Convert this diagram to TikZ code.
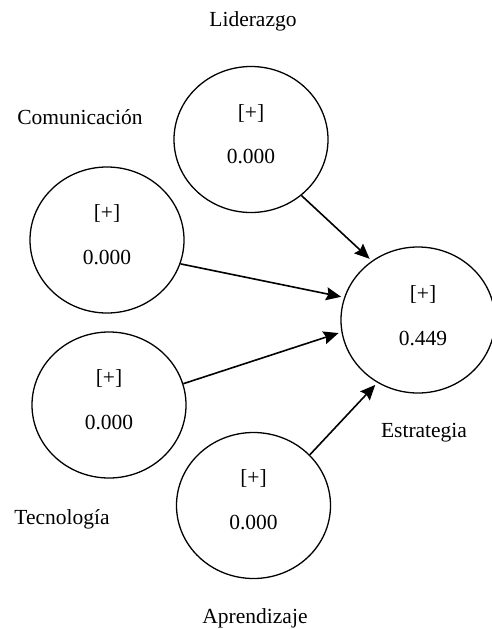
\documentclass[tikz,border=0pt]{standalone}
\usepackage{fontspec}
\setmainfont{Liberation Serif}
\usetikzlibrary{arrows.meta,shapes.geometric}
\begin{document}
\begin{tikzpicture}[x=1pt,y=-1pt,
  lv/.style={draw, line width=1.3pt, ellipse, minimum width=154pt, minimum height=146pt, inner sep=0pt},
  txt/.style={font=\fontsize{21.5}{25}\selectfont, inner sep=0pt},
  arr/.style={line width=1.6pt, -{Stealth[length=15pt,width=13pt,inset=2pt]}, shorten >=3pt}]
\useasboundingbox (0,0) rectangle (491,629);
\node[lv] (lid) at (251,139.5) {};
\node[lv] (com) at (107,240) {};
\node[lv] (tec) at (109,405) {};
\node[lv] (apr) at (253.5,505.5) {};
\node[lv] (est) at (418,320) {};
% inner texts
\node[txt] (lidp) at (251,113) {[+]};
\node[txt] (lidv) at (251,157) {0.000};
\node[txt] (comp) at (107,213) {[+]};
\node[txt] (comv) at (107,257) {0.000};
\node[txt] (tecp) at (109,378) {[+]};
\node[txt] (tecv) at (109,422) {0.000};
\node[txt] (aprp) at (253.5,478) {[+]};
\node[txt] (aprv) at (253.5,522) {0.000};
\node[txt] (estp) at (423,294) {[+]};
\node[txt] (estv) at (423,338) {0.449};
% labels
\node[txt] (lidl) at (253,21) {Liderazgo};
\node[txt] (coml) at (80,117) {Comunicación};
\node[txt] (tecl) at (62,519) {Tecnología};
\node[txt] (aprl) at (255,618) {Aprendizaje};
\node[txt] (estl) at (424,433) {Estrategia};
% arrows
\draw[arr] (lid.-48) -- (est.128);
\draw[arr] (com.-18) -- (est.163);
\draw[arr] (tec.16) -- (est.189);
\draw[arr] (apr.42) -- (est.237);
\end{tikzpicture}
\end{document}
